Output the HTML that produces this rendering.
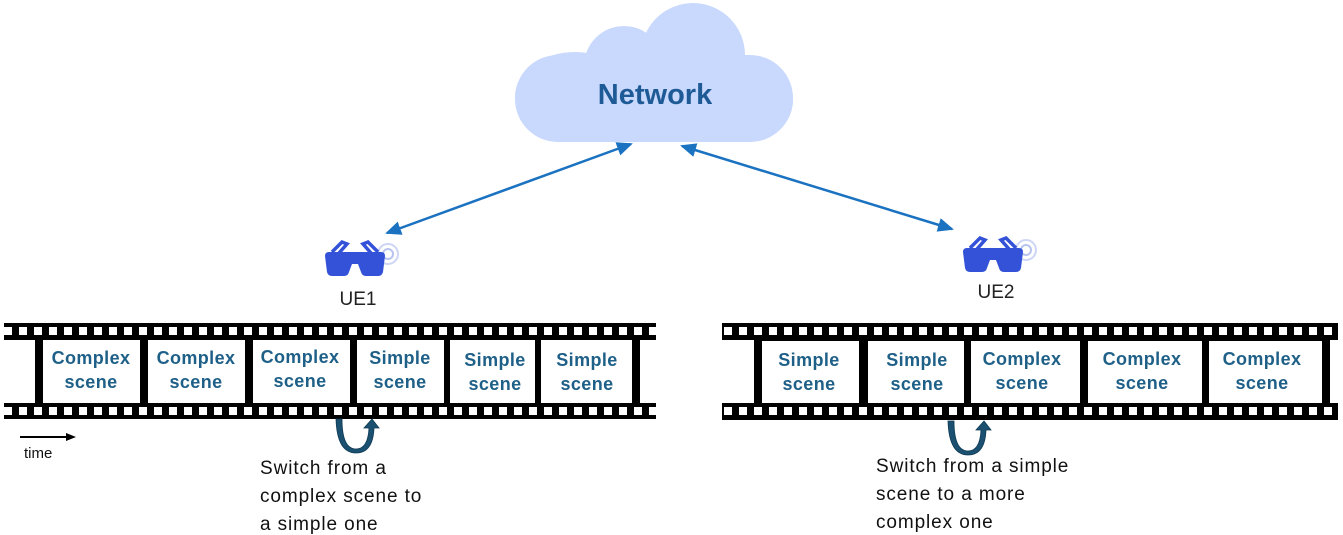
<!DOCTYPE html>
<html><head><meta charset="utf-8"><style>
body{margin:0;background:#fff}
svg{display:block}
.sc{font-family:"Liberation Sans",sans-serif;font-weight:bold;font-size:18px;letter-spacing:0.4px;fill:#1f6088;text-anchor:middle}
.t{font-family:"Liberation Sans",sans-serif;font-size:19px;letter-spacing:0.9px;fill:#111}
</style></head><body>
<svg width="1343" height="535" viewBox="0 0 1343 535" xmlns="http://www.w3.org/2000/svg">
<defs>
<pattern id="holes" x="0" y="0" width="15" height="80" patternUnits="userSpaceOnUse">
<rect x="4" y="7" width="8" height="8" fill="#fff"/>
</pattern>
<marker id="ah" markerWidth="16" markerHeight="14" refX="14" refY="7" orient="auto-start-reverse" markerUnits="userSpaceOnUse" viewBox="0 0 16 14">
<path d="M0,0 L16,7 L0,14 z" fill="#1a72c0"/>
</marker>
<g id="glasses">
<circle cx="64" cy="16" r="10" fill="none" stroke="#cdd6f5" stroke-width="2"/>
<circle cx="64" cy="16" r="5" fill="none" stroke="#b8c4f0" stroke-width="2"/>
<path d="M8,14 L18,4 L23,6 L15,15 M54,14 L44,4 L39,6 L47,15" stroke="#3352d8" stroke-width="3.5" fill="none"/>
<path d="M1,18 Q1,14 5,14 L57,14 Q61,14 61,18 L59,34 Q58,38 54,38 L42,38 Q38,38 37,34 L34,26 L28,26 L25,34 Q24,38 20,38 L8,38 Q4,38 3,34 Z" fill="#3352d8"/>
</g>
<g id="curl">
<path d="M2,0 Q2,30 16,30 Q28,30 29,9 L24,9 L32,0 L39,9 L34,9 Q33,34 16,34 Q-3,34 -4,0 Z" fill="#1b5070" stroke="#0e3a55" stroke-width="0.8"/>
</g>
</defs>

<!-- cloud -->
<g fill="#c9d9fd">
<rect x="515" y="55" width="278" height="87" rx="43"/>
<circle cx="624" cy="66" r="40"/>
<ellipse cx="693" cy="55" rx="52" ry="52"/>
<ellipse cx="575" cy="97" rx="60" ry="45"/>
<ellipse cx="745" cy="100" rx="48" ry="42"/>
</g>
<text x="655" y="104" text-anchor="middle" font-family="Liberation Sans,sans-serif" font-weight="bold" font-size="29" fill="#1e5a96">Network</text>

<!-- arrows -->
<line x1="631" y1="144" x2="387" y2="233" stroke="#1a72c0" stroke-width="2.5" marker-start="url(#ah)" marker-end="url(#ah)"/>
<line x1="682" y1="146" x2="952" y2="229" stroke="#1a72c0" stroke-width="2.5" marker-start="url(#ah)" marker-end="url(#ah)"/>

<use href="#glasses" x="324" y="238"/>
<use href="#glasses" x="962" y="234"/>
<text x="358" y="305" text-anchor="middle" font-family="Liberation Sans,sans-serif" font-size="19" fill="#222">UE1</text>
<text x="996" y="298" text-anchor="middle" font-family="Liberation Sans,sans-serif" font-size="19" fill="#222">UE2</text>

<!-- strip 1 -->
<rect x="4" y="323" width="652" height="17" fill="#000"/>
<rect x="4" y="323" width="652" height="17" fill="url(#holes)"/>
<rect x="4" y="403" width="652" height="16" fill="#000"/>
<rect x="4" y="403" width="652" height="16" fill="url(#holes)"/>
<rect x="35" y="340" width="605" height="63" fill="#000"/>
<g fill="#fff">
<rect x="43" y="340" width="97" height="63"/>
<rect x="148" y="340" width="97" height="63"/>
<rect x="253" y="340" width="97" height="63"/>
<rect x="357" y="340" width="87" height="63"/>
<rect x="450" y="340" width="85" height="63"/>
<rect x="541" y="340" width="91" height="63"/>
</g>
<g class="sc">
<text x="91" y="364">Complex</text><text x="91" y="388">scene</text>
<text x="196" y="364">Complex</text><text x="196" y="388">scene</text>
<text x="300" y="363">Complex</text><text x="300" y="387">scene</text>
<text x="400" y="364">Simple</text><text x="400" y="388">scene</text>
<text x="495" y="366">Simple</text><text x="495" y="390">scene</text>
<text x="587" y="366">Simple</text><text x="587" y="390">scene</text>
</g>

<!-- strip 2 -->
<rect x="722" y="323" width="616" height="17" fill="#000"/>
<rect x="722" y="323" width="616" height="17" fill="url(#holes)"/>
<rect x="722" y="403" width="616" height="17" fill="#000"/>
<rect x="722" y="403" width="616" height="17" fill="url(#holes)"/>
<rect x="754" y="340" width="576" height="63" fill="#000"/>
<g fill="#fff">
<rect x="762" y="341" width="97" height="62"/>
<rect x="868" y="341" width="96" height="62"/>
<rect x="971" y="341" width="109" height="62"/>
<rect x="1088" y="341" width="114" height="62"/>
<rect x="1209" y="341" width="113" height="62"/>
</g>
<g class="sc">
<text x="809" y="366">Simple</text><text x="809" y="390">scene</text>
<text x="917" y="366">Simple</text><text x="917" y="390">scene</text>
<text x="1022" y="365">Complex</text><text x="1022" y="389">scene</text>
<text x="1142" y="365">Complex</text><text x="1142" y="389">scene</text>
<text x="1262" y="365">Complex</text><text x="1262" y="389">scene</text>
</g>

<!-- time -->
<line x1="20" y1="437" x2="68" y2="437" stroke="#000" stroke-width="2"/>
<path d="M66,433 L76,437 L66,441 Z" fill="#000"/>
<text x="24" y="458" font-family="Liberation Sans,sans-serif" font-size="15" fill="#111">time</text>

<use href="#curl" x="340" y="419"/>
<use href="#curl" x="952" y="421"/>

<g class="t">
<text x="260" y="474">Switch from a</text>
<text x="260" y="502">complex scene to</text>
<text x="260" y="530">a simple one</text>
<text x="876" y="472">Switch from a simple</text>
<text x="876" y="500">scene to a more</text>
<text x="876" y="528">complex one</text>
</g>
</svg>
</body></html>
